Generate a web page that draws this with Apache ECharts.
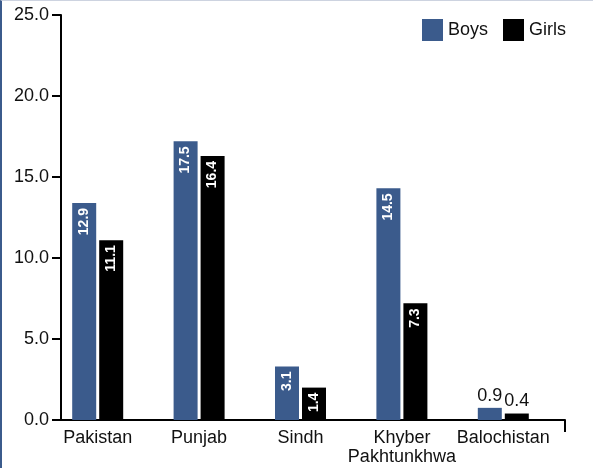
<!DOCTYPE html>
<html>
<head>
<meta charset="utf-8">
<script src="https://cdn.jsdelivr.net/npm/echarts@6/dist/echarts.min.js"></script>
<style>
  html, body { margin: 0; padding: 0; background: #fff; }
  #chart {
    width: 591px;
    height: 467px;
    border-left: 2px solid #3b5b8c;
    border-top: 1px solid #cdd3e0;
  }
</style>
</head>
<body>
<div id="chart"></div>
<script>
const regions = ['Pakistan', 'Punjab', 'Sindh', 'Khyber\nPakhtunkhwa', 'Balochistan']
// bar heights as drawn in the picture
const boysValues = [13.4, 17.2, 3.3, 14.3, 0.75]
const girlsValues = [11.1, 16.3, 2.0, 7.2, 0.4]
// printed labels
const boysLabels = ['12.9', '17.5', '3.1', '14.5', '0.9']
const girlsLabels = ['11.1', '16.4', '1.4', '7.3', '0.4']
const yTicks = [0, 5, 10, 15, 20, 25]

const font = 'Liberation Sans, Arial, sans-serif'

const chart = echarts.init(document.getElementById('chart'))

const makeData = (values, labels) => values.map((v, i) => {
  const small = v < 1
  return {
    value: v,
    label: small ? {
      show: true,
      position: 'top',
      rotate: 0,
      align: 'center',
      verticalAlign: 'bottom',
      distance: 3,
      color: '#111',
      fontWeight: 'normal',
      fontSize: 18,
      formatter: labels[i]
    } : {
      show: true,
      formatter: labels[i]
    }
  }
})

const barLabel = {
  show: true,
  position: 'insideTop',
  rotate: 90,
  align: 'right',
  verticalAlign: 'middle',
  distance: 5,
  color: '#fff',
  fontWeight: 'bold',
  fontSize: 14,
  fontFamily: font
}

chart.setOption({
  animation: false,
  textStyle: { fontFamily: font },
  legend: {
    right: 22,
    top: 13,
    itemWidth: 21,
    itemHeight: 22,
    itemGap: 15,
    icon: 'rect',
    selectedMode: false,
    textStyle: { fontSize: 18, color: '#111', padding: [0, 0, 0, 0] },
    data: ['Boys', 'Girls']
  },
  grid: [
    { left: 59, right: 28, top: 14, bottom: 48 },
    { left: 45, right: 39, top: 14, bottom: 48 }
  ],
  xAxis: [{
    gridIndex: 0,
    type: 'value',
    min: 0,
    max: 1,
    splitLine: { show: false },
    axisLabel: { show: false },
    axisLine: { show: true, lineStyle: { color: '#000', width: 2 } },
    axisTick: {
      show: true,
      customValues: [1],
      length: 12,
      lineStyle: { color: '#000', width: 2 }
    }
  }, {
    gridIndex: 1,
    type: 'category',
    data: regions,
    axisLine: { show: false },
    axisTick: { show: false },
    axisLabel: {
      margin: 9,
      fontSize: 18,
      color: '#111',
      lineHeight: 19,
      interval: 0
    }
  }],
  yAxis: [{
    gridIndex: 0,
    type: 'value',
    min: yTicks[0],
    max: yTicks[yTicks.length - 1],
    interval: 5,
    splitLine: { show: false },
    axisLine: { show: true, lineStyle: { color: '#000', width: 2 } },
    axisTick: { show: true, length: 9, lineStyle: { color: '#000', width: 2 } },
    axisLabel: {
      margin: 12,
      fontSize: 18,
      color: '#111',
      formatter: (v) => v.toFixed(1)
    }
  }, {
    gridIndex: 1,
    type: 'value',
    min: yTicks[0],
    max: yTicks[yTicks.length - 1],
    show: false
  }],
  series: [{
    name: 'Boys',
    type: 'bar',
    xAxisIndex: 1,
    yAxisIndex: 1,
    barWidth: 24,
    barGap: '12.5%',
    itemStyle: { color: '#3b5b8c' },
    label: barLabel,
    data: makeData(boysValues, boysLabels)
  }, {
    name: 'Girls',
    type: 'bar',
    xAxisIndex: 1,
    yAxisIndex: 1,
    barWidth: 24,
    barGap: '12.5%',
    itemStyle: { color: '#000' },
    label: barLabel,
    data: makeData(girlsValues, girlsLabels)
  }]
})
</script>
</body>
</html>
